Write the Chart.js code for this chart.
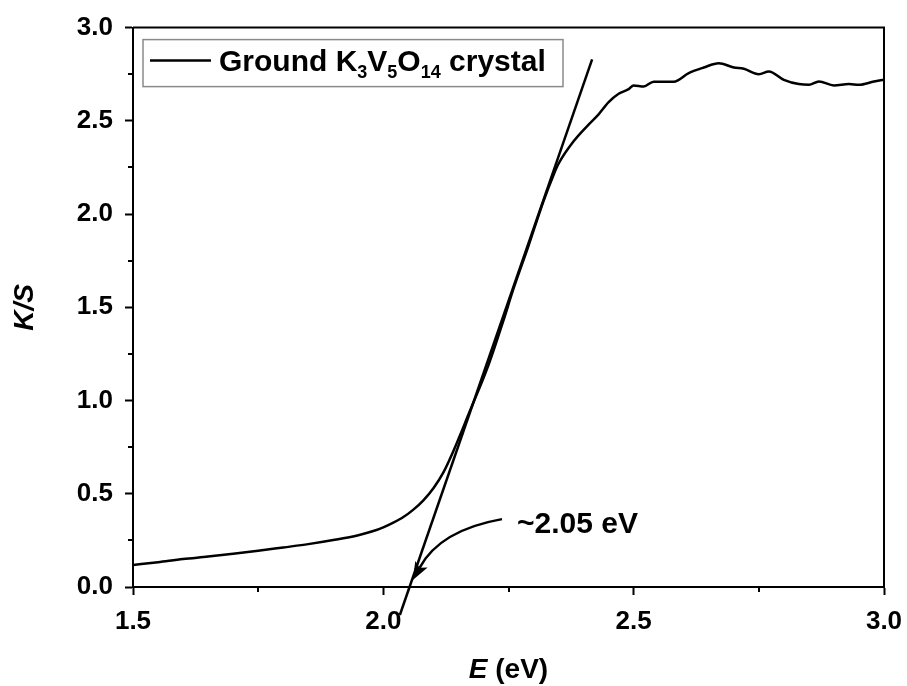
<!DOCTYPE html>
<html>
<head>
<meta charset="utf-8">
<title>K/S vs E</title>
<script src="https://cdn.jsdelivr.net/npm/chart.js@4.4.1/dist/chart.umd.min.js"></script>
<style>
  body { margin: 0; background: #fff; }
  #wrap { width: 907px; height: 686px; }
</style>
</head>
<body>
<div id="wrap"><canvas id="myChart" width="907" height="686"></canvas></div>
<script>
// Kubelka-Munk curve of the ground crystal
var energy = [1.50, 1.55, 1.60, 1.65, 1.70, 1.75, 1.80, 1.85, 1.90, 1.95, 1.98, 2.00, 2.02, 2.04, 2.06, 2.08,
              2.10, 2.12, 2.14, 2.17, 2.21, 2.24, 2.26, 2.29, 2.32, 2.34, 2.35, 2.38, 2.41, 2.43, 2.45, 2.47, 2.49,
              2.50, 2.52, 2.54, 2.58, 2.61, 2.64, 2.67, 2.70, 2.72, 2.75, 2.77, 2.80, 2.83, 2.85, 2.87, 2.90,
              2.93, 2.95, 2.98, 3.00];
var ks = [0.118, 0.133, 0.150, 0.163, 0.178, 0.194, 0.212, 0.230, 0.252, 0.278, 0.300, 0.320, 0.345, 0.375, 0.415, 0.465,
          0.530, 0.615, 0.730, 0.925, 1.19, 1.43, 1.60, 1.83, 2.07, 2.21, 2.27, 2.39, 2.48, 2.535, 2.60, 2.645, 2.67,
          2.69, 2.684, 2.71, 2.71, 2.756, 2.786, 2.809, 2.786, 2.779, 2.750, 2.765, 2.72, 2.697, 2.693, 2.711, 2.69,
          2.697, 2.693, 2.711, 2.72];

// tangent through the absorption edge
var tangentE = [2.033, 2.417];
var tangentK = [-0.15, 2.83];

// band gap note
var gapLabel = "~2.05 eV";
var gapLabelAt = [2.267, 0.289];
var arrowFrom = [2.237, 0.364];
var arrowBend = [2.113, 0.305];
var arrowTo = [2.059, 0.037];

var xTicks = [1.5, 2.0, 2.5, 3.0];
var yTicks = [0.0, 0.5, 1.0, 1.5, 2.0, 2.5, 3.0];

var FONT = "'Liberation Sans', Arial, sans-serif";

function toPoints(xs, ys) {
  var pts = [];
  for (var i = 0; i < xs.length; i++) pts.push({x: xs[i], y: ys[i]});
  return pts;
}

var extras = {
  id: 'extras',
  afterDraw: function(chart) {
    var ctx = chart.ctx;
    var a = chart.chartArea;
    var xs = chart.scales.x, ys = chart.scales.y;
    ctx.save();

    // frame
    ctx.strokeStyle = '#000';
    ctx.lineWidth = 2;
    ctx.beginPath();
    ctx.moveTo(a.left, a.top);
    ctx.lineTo(a.right, a.top);
    ctx.lineTo(a.right, a.bottom);
    ctx.stroke();

    // minor ticks halfway between labels
    ctx.beginPath();
    for (var i = 0; i < xTicks.length - 1; i++) {
      var px = Math.round(xs.getPixelForValue((xTicks[i] + xTicks[i + 1]) / 2));
      ctx.moveTo(px, a.bottom);
      ctx.lineTo(px, a.bottom + 5);
    }
    for (var j = 0; j < yTicks.length - 1; j++) {
      var py = Math.round(ys.getPixelForValue((yTicks[j] + yTicks[j + 1]) / 2));
      ctx.moveTo(a.left, py);
      ctx.lineTo(a.left - 5, py);
    }
    ctx.stroke();

    // axis titles
    ctx.fillStyle = '#000';
    ctx.textBaseline = 'middle';
    var f1 = 'italic bold 28px ' + FONT, f2 = 'bold 28px ' + FONT;
    ctx.font = f1;
    var w1 = ctx.measureText('E').width;
    ctx.font = f2;
    var w2 = ctx.measureText(' (eV)').width;
    var cx = (a.left + a.right) / 2 - (w1 + w2) / 2;
    ctx.textAlign = 'left';
    ctx.font = f1;
    ctx.fillText('E', cx, 670);
    ctx.font = f2;
    ctx.fillText(' (eV)', cx + w1, 670);

    ctx.save();
    ctx.translate(25, (a.top + a.bottom) / 2);
    ctx.rotate(-Math.PI / 2);
    ctx.textAlign = 'center';
    ctx.font = f1;
    ctx.fillText('K/S', 0, 0);
    ctx.restore();

    // legend
    var lx = a.left + 10, ly = a.top + 12;
    ctx.strokeStyle = '#8a8a8a';
    ctx.lineWidth = 1.5;
    ctx.strokeRect(lx, ly, 420, 47);
    ctx.strokeStyle = '#000';
    ctx.lineWidth = 2.5;
    ctx.beginPath();
    ctx.moveTo(lx + 7, ly + 21);
    ctx.lineTo(lx + 68, ly + 21);
    ctx.stroke();
    var parts = [['Ground K', 0], ['3', 1], ['V', 0], ['5', 1], ['O', 0], ['14', 1], [' crystal', 0]];
    var tx = lx + 76, base = ly + 31;
    ctx.textBaseline = 'alphabetic';
    ctx.textAlign = 'left';
    parts.forEach(function(p) {
      ctx.font = p[1] ? 'bold 18px ' + FONT : 'bold 30px ' + FONT;
      ctx.fillText(p[0], tx, p[1] ? base + 7 : base);
      tx += ctx.measureText(p[0]).width;
    });

    // arrow to the intercept
    var sx = xs.getPixelForValue(arrowFrom[0]), sy = ys.getPixelForValue(arrowFrom[1]);
    var bx = xs.getPixelForValue(arrowBend[0]), by = ys.getPixelForValue(arrowBend[1]);
    var ex = xs.getPixelForValue(arrowTo[0]), ey = ys.getPixelForValue(arrowTo[1]);
    var ang = Math.atan2(ey - by, ex - bx);
    var hl = 18, hw = 7;
    var nx = ex - Math.cos(ang) * hl, ny = ey - Math.sin(ang) * hl;
    ctx.lineWidth = 2.5;
    ctx.beginPath();
    ctx.moveTo(sx, sy);
    ctx.quadraticCurveTo(bx, by, nx + Math.cos(ang) * 4, ny + Math.sin(ang) * 4);
    ctx.stroke();
    ctx.beginPath();
    ctx.moveTo(ex, ey);
    ctx.lineTo(nx + Math.sin(ang) * hw, ny - Math.cos(ang) * hw);
    ctx.lineTo(nx + Math.cos(ang) * 4, ny + Math.sin(ang) * 4);
    ctx.lineTo(nx - Math.sin(ang) * hw, ny + Math.cos(ang) * hw);
    ctx.closePath();
    ctx.fill();

    ctx.font = 'bold 30px ' + FONT;
    ctx.fillText(gapLabel, xs.getPixelForValue(gapLabelAt[0]), ys.getPixelForValue(gapLabelAt[1]));
    ctx.restore();
  }
};

var ctx = document.getElementById('myChart').getContext('2d');
var chart = new Chart(ctx, {
  type: 'scatter',
  data: {
    datasets: [{
      label: 'Ground K3V5O14 crystal',
      data: toPoints(energy, ks),
      showLine: true,
      borderColor: '#000',
      borderWidth: 2.5,
      pointRadius: 0,
      cubicInterpolationMode: 'monotone'
    }, {
      label: 'tangent',
      data: toPoints(tangentE, tangentK),
      showLine: true,
      borderColor: '#000',
      borderWidth: 2.5,
      pointRadius: 0,
      clip: false
    }]
  },
  options: {
    responsive: false,
    animation: false,
    events: [],
    layout: { padding: { left: 0, top: 26, right: 23, bottom: 0 } },
    plugins: { legend: { display: false }, tooltip: { enabled: false } },
    scales: {
      x: {
        type: 'linear',
        min: 1.5, max: 3.0,
        afterFit: function(s) { s.height = 99; s.paddingLeft = 0; s.paddingRight = 0; },
        afterBuildTicks: function(s) { s.ticks = xTicks.map(function(v) { return {value: v}; }); },
        ticks: {
          color: '#000', padding: 11, maxRotation: 0,
          font: { family: FONT, size: 26, weight: 'bold' },
          callback: function(v) { return v.toFixed(1); }
        },
        grid: { drawOnChartArea: false, tickLength: 8, tickWidth: 2, tickColor: '#000' },
        border: { display: true, width: 2, color: '#000' }
      },
      y: {
        min: 0, max: 3.0,
        afterFit: function(s) { s.width = 133; },
        afterBuildTicks: function(s) { s.ticks = yTicks.map(function(v) { return {value: v}; }); },
        ticks: {
          color: '#000', padding: 12,
          font: { family: FONT, size: 26, weight: 'bold' },
          callback: function(v) { return v.toFixed(1); }
        },
        grid: { drawOnChartArea: false, tickLength: 8, tickWidth: 2, tickColor: '#000' },
        border: { display: true, width: 2, color: '#000' }
      }
    }
  },
  plugins: [extras]
});
</script>
</body>
</html>
